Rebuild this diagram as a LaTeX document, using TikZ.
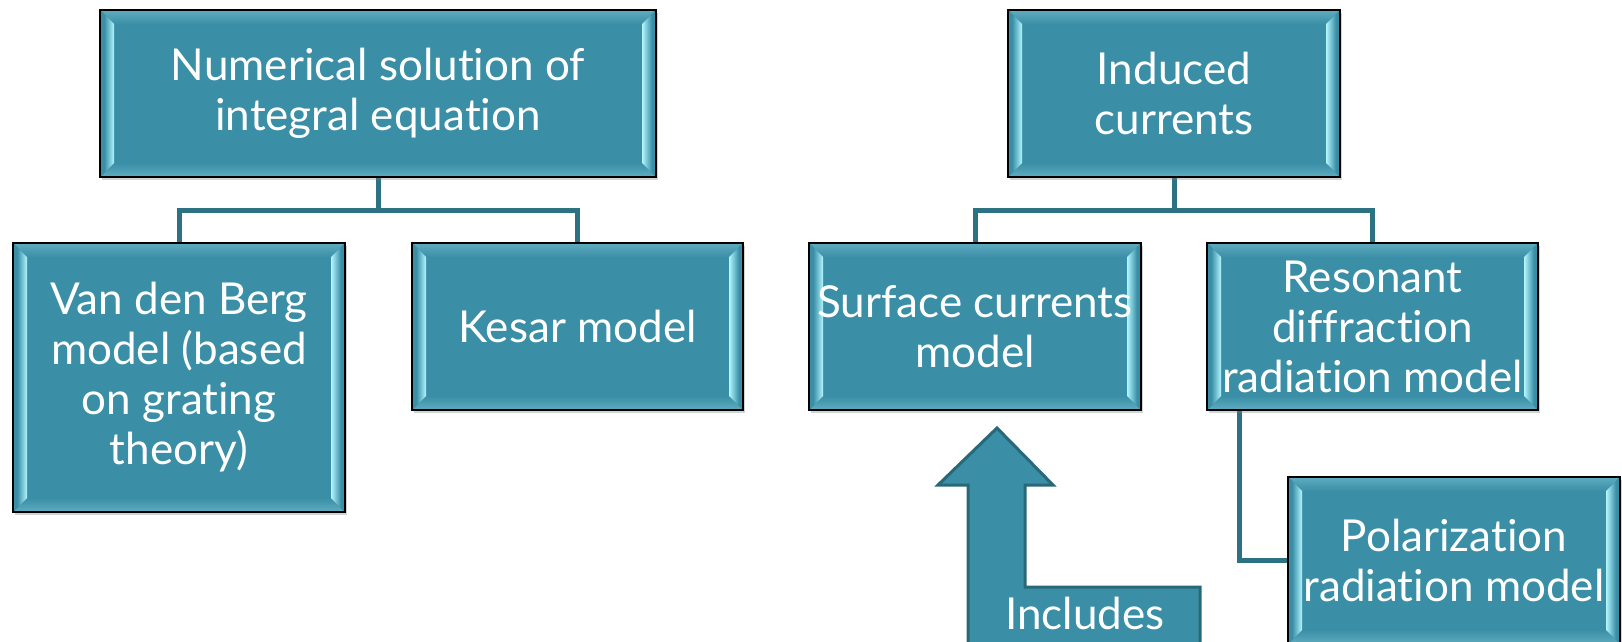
\documentclass[tikz,border=0pt]{standalone}
\usepackage{fontspec}
\setmainfont{Lato}[Ligatures={NoCommon}]
\usetikzlibrary{shadows,calc,backgrounds}
\definecolor{tealfill}{RGB}{58,143,166}
\definecolor{cyanb}{RGB}{178,246,255}
\definecolor{teallt}{RGB}{96,172,192}
\definecolor{linec}{RGB}{44,114,130}
\definecolor{arrowedge}{RGB}{40,104,120}
\pgfdeclarehorizontalshading{bevL}{100bp}{color(0bp)=(tealfill); color(40bp)=(tealfill); color(75bp)=(cyanb); color(100bp)=(cyanb)}
\pgfdeclarehorizontalshading{bevR}{100bp}{color(0bp)=(cyanb); color(25bp)=(cyanb); color(60bp)=(tealfill); color(100bp)=(tealfill)}
\newcommand\boxfont{\fontsize{44}{50}\selectfont}
\def\bv{14}
\tikzset{
  bx/.style={draw=black, line width=1.4pt, fill=tealfill, text=white, align=center,
    inner sep=0pt, font=\boxfont,
    drop shadow={opacity=0.35, shadow xshift=2pt, shadow yshift=-3pt},
    path picture={
      \path (path picture bounding box.north west) coordinate (@nw)
            (path picture bounding box.south east) coordinate (@se);
      \path (@nw -| @se) coordinate (@ne) (@se -| @nw) coordinate (@sw);
      \fill[top color=teallt, bottom color=tealfill]
        (@nw) -- (@ne) -- ($(@ne)+(-\bv,\bv)$) -- ($(@nw)+(\bv,\bv)$) -- cycle;
      \fill[top color=tealfill, bottom color=teallt]
        (@sw) -- (@se) -- ($(@se)+(-\bv,-\bv)$) -- ($(@sw)+(\bv,-\bv)$) -- cycle;
      \fill[shading=bevL]
        (@nw) -- ($(@nw)+(\bv,\bv)$) -- ($(@sw)+(\bv,-\bv)$) -- (@sw) -- cycle;
      \fill[shading=bevR]
        (@ne) -- ($(@ne)+(-\bv,\bv)$) -- ($(@se)+(-\bv,-\bv)$) -- (@se) -- cycle;
    }},
  conn/.style={draw=linec, line width=5pt, line join=miter},
  bigarrow/.style={fill=tealfill, draw=arrowedge, line width=3pt, line join=miter}
}
\begin{document}
\begin{tikzpicture}[x=1pt,y=-1pt]
\useasboundingbox (0,0) rectangle (1622,642);
\clip (0,0) rectangle (1622,642);

\node[bx, minimum width=556pt, minimum height=167pt] (B1) at (378,93.5) {Numerical solution of\\integral equation};
\node[bx, minimum width=332pt, minimum height=167pt] (B2) at (1174,93.5) {Induced\\currents};
\node[bx, minimum width=332pt, minimum height=269pt] (B3) at (179,377.5) {Van den Berg\\model (based\\on grating\\theory)};
\node[bx, minimum width=331pt, minimum height=167pt] (B4) at (577.5,326.5) {Kesar model};
\node[bx, minimum width=332pt, minimum height=167pt] (B5) at (975,326.5) {Surface currents\\model};
\node[bx, minimum width=331pt, minimum height=167pt] (B6) at (1372.5,326.5) {Resonant\\diffraction\\radiation model};
\node[bx, minimum width=332pt, minimum height=167pt] (B7) at (1454,560.5) {Polarization\\radiation model};

\begin{scope}[on background layer]
  \coordinate (j1) at (378,210);
  \coordinate (j2) at (1174,210);
  \draw[conn] (B1.south) -- (j1);
  \draw[conn] (B3.north) -- (B3.north |- j1) -- (B4.north |- j1) -- (B4.north);
  \draw[conn] (B2.south) -- (j2);
  \draw[conn] (B5.north) -- (B5.north |- j2) -- (B6.north |- j2) -- (B6.north);
  \coordinate (k1) at ([xshift=33pt]B6.south west);
  \draw[conn] (k1) |- (B7.west);
\end{scope}

\draw[bigarrow] (997,428) -- (1053,485) -- (1025,485) -- (1025,587) -- (1200,587)
  -- (1200,660) -- (968,660) -- (968,485) -- (938,485) -- cycle;
\node[text=white, font=\boxfont, inner sep=0pt] (inc) at (1085,613) {Includes};
\end{tikzpicture}
\end{document}
